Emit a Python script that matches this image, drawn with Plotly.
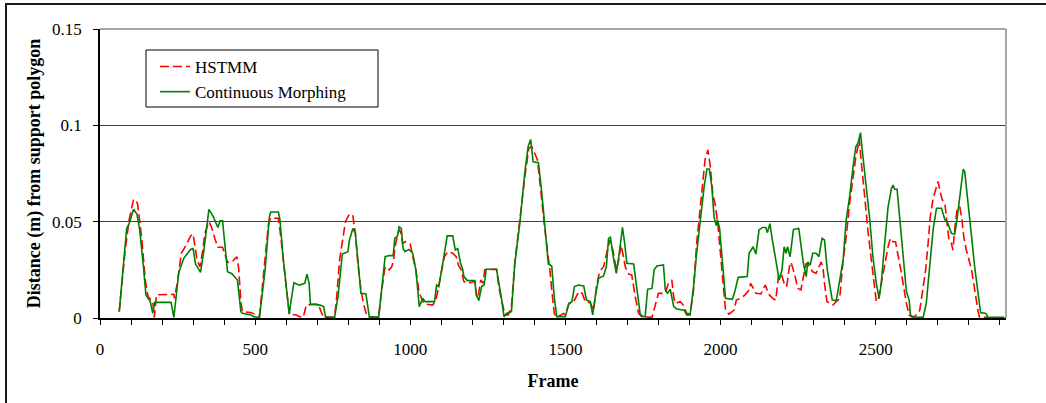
import plotly.graph_objects as go

# ---- data ----
hstmm_frames = [62, 81, 94, 108, 121, 124, 135, 146, 155, 170, 175, 182, 238, 240, 249, 262, 276, 292, 300, 313,
                322, 330, 338, 351, 359, 370, 380, 395, 411, 425, 441, 447, 454, 459, 486, 514, 527, 543, 550, 575,
                582, 591, 601, 610, 633, 644, 655, 660, 665, 703, 710, 719, 756, 763, 772, 783, 791, 804, 815, 823,
                831, 841, 849, 859, 868, 898, 908, 919, 932, 940, 945, 953, 964, 969, 975, 985, 1000, 1008, 1018, 1029,
                1035, 1045, 1072, 1083, 1089, 1099, 1110, 1121, 1137, 1148, 1155, 1164, 1173, 1184, 1208, 1213, 1218, 1227, 1235, 1240,
                1278, 1286, 1297, 1305, 1316, 1326, 1337, 1353, 1370, 1382, 1391, 1401, 1410, 1418, 1425, 1434, 1443, 1450, 1456, 1464,
                1472, 1494, 1500, 1511, 1527, 1543, 1554, 1564, 1580, 1591, 1600, 1610, 1623, 1634, 1643, 1653, 1664, 1672, 1679, 1685,
                1693, 1704, 1714, 1725, 1736, 1746, 1779, 1786, 1793, 1800, 1822, 1832, 1843, 1849, 1854, 1870, 1880, 1891, 1902, 1913,
                1923, 1934, 1943, 1950, 1959, 1966, 1975, 1984, 1992, 2000, 2008, 2016, 2027, 2043, 2051, 2065, 2079, 2092, 2097, 2105,
                2114, 2130, 2144, 2157, 2168, 2178, 2187, 2195, 2205, 2213, 2222, 2227, 2238, 2249, 2259, 2267, 2276, 2286, 2297, 2308,
                2317, 2324, 2330, 2335, 2343, 2351, 2362, 2373, 2384, 2395, 2405, 2416, 2427, 2436, 2443, 2447, 2453, 2460, 2468, 2476,
                2486, 2494, 2502, 2508, 2518, 2529, 2540, 2547, 2556, 2564, 2572, 2581, 2590, 2599, 2608, 2615, 2626, 2642, 2650, 2661,
                2669, 2676, 2685, 2696, 2701, 2709, 2715, 2723, 2730, 2736, 2744, 2749, 2755, 2762, 2771, 2778, 2784, 2792, 2801, 2809,
                2816, 2822, 2830, 2835, 2862]
hstmm_values = [0.0033, 0.035, 0.051, 0.0616, 0.0595, 0.055, 0.0405, 0.0197, 0.011, 0.0085, 0.0003, 0.012, 0.0123, 0.0102, 0.018, 0.0336, 0.0374, 0.0426, 0.0436, 0.030,
                0.0266, 0.0336, 0.044, 0.050, 0.0474, 0.0413, 0.0367, 0.0367, 0.029, 0.029, 0.0318, 0.0258, 0.0085, 0.0033, 0.0028, 0.001, 0.0215, 0.049, 0.052, 0.0517,
                0.043, 0.029, 0.0145, 0.002, 0.0016, 0.0007, 0.0003, 0.0045, 0.0067, 0.0073, 0.004, 0.0007, 0.0003, 0.011, 0.030, 0.042, 0.050, 0.054, 0.053, 0.044,
                0.0284, 0.0145, 0.0076, 0.0016, 0.0003, 0.0003, 0.0145, 0.0266, 0.025, 0.0266, 0.029, 0.0388, 0.0457, 0.045, 0.0388, 0.0396, 0.0384, 0.0318, 0.025, 0.0128,
                0.011, 0.0073, 0.0067, 0.0093, 0.0145, 0.0232, 0.0318, 0.0344, 0.0336, 0.0318, 0.0275, 0.025, 0.0189, 0.018, 0.0189, 0.012, 0.0102, 0.0197, 0.018, 0.025,
                0.0253, 0.0154, 0.0076, 0.0016, 0.0016, 0.0059, 0.029, 0.0526, 0.0742, 0.088, 0.089, 0.0855, 0.082, 0.070, 0.0578, 0.0457, 0.0336, 0.025, 0.0145, 0.0024,
                0.0003, 0.0024, 0.0016, 0.0073, 0.0085, 0.0137, 0.0128, 0.0085, 0.008, 0.004, 0.0163, 0.024, 0.0266, 0.0353, 0.0405, 0.0353, 0.025, 0.030, 0.0379, 0.0336,
                0.0266, 0.0228, 0.0223, 0.011, 0.0024, 0.0007, 0.0003, 0.0045, 0.0093, 0.0128, 0.0128, 0.018, 0.0197, 0.011, 0.0076, 0.0085, 0.0067, 0.0024, 0.002, 0.0145,
                0.0388, 0.056, 0.068, 0.082, 0.0872, 0.080, 0.0647, 0.0578, 0.0474, 0.0336, 0.018, 0.004, 0.002, 0.004, 0.0093, 0.0102, 0.012, 0.0145, 0.018, 0.0154,
                0.0128, 0.0125, 0.0171, 0.012, 0.0102, 0.0093, 0.0223, 0.0232, 0.018, 0.0163, 0.0266, 0.029, 0.0232, 0.0154, 0.0145, 0.0215, 0.0284, 0.0266, 0.024, 0.0232,
                0.0266, 0.029, 0.0266, 0.018, 0.0085, 0.0076, 0.0067, 0.0085, 0.0102, 0.030, 0.0422, 0.0595, 0.0733, 0.0837, 0.089, 0.093, 0.082, 0.070, 0.056, 0.044,
                0.030, 0.0197, 0.0085, 0.0093, 0.018, 0.0284, 0.037, 0.0413, 0.0396, 0.0396, 0.0336, 0.025, 0.0163, 0.0076, 0.0016, 0.0007, 0.0007, 0.004, 0.0128, 0.025,
                0.0388, 0.0526, 0.062, 0.068, 0.0708, 0.0647, 0.0612, 0.0595, 0.0474, 0.0405, 0.0388, 0.0353, 0.0465, 0.056, 0.0578, 0.051, 0.0422, 0.0353, 0.030, 0.025,
                0.018, 0.011, 0.0033, 0.0003, 0.0003]

cm_frames = [62, 86, 94, 108, 119, 128, 140, 148, 162, 170, 176, 229, 238, 254, 270, 292, 300, 308, 324, 335,
             351, 365, 380, 387, 395, 411, 425, 443, 454, 459, 486, 495, 514, 532, 546, 550, 575, 580, 591, 601,
             610, 617, 625, 642, 660, 667, 674, 678, 710, 721, 727, 756, 767, 781, 799, 804, 815, 823, 831, 841,
             857, 868, 898, 905, 919, 932, 945, 950, 959, 964, 971, 977, 983, 996, 1008, 1018, 1029, 1040, 1048, 1078,
             1085, 1092, 1102, 1110, 1119, 1137, 1145, 1153, 1162, 1168, 1173, 1184, 1208, 1213, 1221, 1230, 1238, 1245, 1278, 1286,
             1294, 1302, 1310, 1326, 1337, 1353, 1370, 1380, 1388, 1396, 1413, 1423, 1432, 1440, 1445, 1456, 1464, 1472, 1500, 1511,
             1521, 1529, 1543, 1559, 1568, 1580, 1588, 1596, 1607, 1623, 1632, 1639, 1645, 1655, 1664, 1672, 1679, 1684, 1691, 1698,
             1720, 1731, 1741, 1750, 1757, 1765, 1779, 1786, 1795, 1816, 1822, 1829, 1838, 1849, 1859, 1883, 1891, 1902, 1913, 1923,
             1934, 1947, 1956, 1964, 1972, 1979, 1986, 1990, 1997, 2005, 2016, 2038, 2046, 2057, 2086, 2092, 2097, 2105, 2114, 2124,
             2135, 2146, 2151, 2159, 2168, 2178, 2189, 2198, 2205, 2211, 2216, 2224, 2235, 2252, 2259, 2267, 2276, 2281, 2289, 2297,
             2308, 2317, 2327, 2335, 2344, 2351, 2360, 2373, 2384, 2395, 2405, 2416, 2427, 2436, 2443, 2451, 2459, 2470, 2481, 2491,
             2502, 2511, 2518, 2529, 2540, 2551, 2556, 2561, 2569, 2577, 2588, 2599, 2608, 2612, 2620, 2653, 2663, 2674, 2685, 2696,
             2712, 2723, 2733, 2744, 2755, 2762, 2771, 2782, 2787, 2798, 2809, 2819, 2830, 2838, 2855, 2862, 2915]
cm_values = [0.0033, 0.0465, 0.049, 0.0564, 0.054, 0.0457, 0.0266, 0.012, 0.0085, 0.0024, 0.0081, 0.0081, 0.0003, 0.0237, 0.031, 0.0356, 0.036, 0.028, 0.0237, 0.0353,
             0.0564, 0.0526, 0.047, 0.0505, 0.0505, 0.024, 0.023, 0.0197, 0.0033, 0.0024, 0.0016, 0.0007, 0.0003, 0.025, 0.0526, 0.055, 0.055, 0.051, 0.030, 0.0137,
             0.002, 0.0102, 0.0183, 0.017, 0.018, 0.0228, 0.018, 0.0073, 0.0067, 0.0059, 0.0003, 0.0003, 0.0111, 0.0332, 0.0344, 0.0405, 0.0465, 0.044, 0.030, 0.0128,
             0.0125, 0.0007, 0.0003, 0.011, 0.0318, 0.0324, 0.0324, 0.0413, 0.0426, 0.0474, 0.0465, 0.036, 0.0344, 0.0356, 0.0336, 0.025, 0.0059, 0.0102, 0.0085, 0.0085,
             0.0171, 0.0163, 0.025, 0.0336, 0.0426, 0.0426, 0.0353, 0.036, 0.0284, 0.0258, 0.0215, 0.0194, 0.0194, 0.012, 0.009, 0.0163, 0.0171, 0.0253, 0.0253, 0.018,
             0.0102, 0.0007, 0.0024, 0.0033, 0.0284, 0.049, 0.0768, 0.089, 0.0927, 0.0811, 0.0806, 0.0664, 0.051, 0.0353, 0.028, 0.027, 0.011, 0.0007, 0.0007, 0.0076,
             0.0085, 0.0163, 0.0171, 0.0166, 0.0093, 0.0085, 0.0016, 0.011, 0.0206, 0.0218, 0.0266, 0.0413, 0.0419, 0.031, 0.0232, 0.0318, 0.0422, 0.047, 0.0388, 0.0284,
             0.028, 0.0145, 0.002, 0.0007, 0.0007, 0.0149, 0.0154, 0.025, 0.027, 0.0275, 0.0145, 0.0128, 0.0149, 0.0059, 0.0047, 0.004, 0.0016, 0.0016, 0.0163, 0.0336,
             0.051, 0.068, 0.0773, 0.0773, 0.068, 0.0526, 0.048, 0.051, 0.0465, 0.030, 0.0102, 0.0097, 0.0137, 0.0211, 0.0215, 0.0336, 0.035, 0.037, 0.0332, 0.0457,
             0.047, 0.047, 0.0443, 0.049, 0.0396, 0.031, 0.0197, 0.025, 0.037, 0.0336, 0.037, 0.0318, 0.046, 0.0465, 0.037, 0.0284, 0.0215, 0.029, 0.0275, 0.0336,
             0.0336, 0.0318, 0.0413, 0.0405, 0.025, 0.018, 0.0093, 0.009, 0.0197, 0.030, 0.051, 0.063, 0.0785, 0.089, 0.0907, 0.0962, 0.0837, 0.068, 0.051, 0.0318,
             0.018, 0.0102, 0.018, 0.0388, 0.0578, 0.0673, 0.069, 0.0668, 0.0668, 0.0526, 0.0318, 0.0137, 0.0093, 0.0016, 0.0003, 0.0003, 0.0076, 0.0284, 0.0457, 0.057,
             0.057, 0.051, 0.049, 0.044, 0.0436, 0.051, 0.0638, 0.0772, 0.076, 0.057, 0.0422, 0.0266, 0.0137, 0.0028, 0.0024, 0.0003, 0.0003]

x_range = [0, 2920]
y_ticks = [0, 0.05, 0.1, 0.15]
y_ticktext = ["0", "0.05", "0.1", "0.15"]

SERIF = "Liberation Serif, Times New Roman, serif"

fig = go.Figure()
fig.add_trace(go.Scatter(x=hstmm_frames, y=hstmm_values, mode="lines", name="HSTMM",
                         line=dict(color="#ff0000", width=1.6, dash="9px,4px")))
fig.add_trace(go.Scatter(x=cm_frames, y=cm_values, mode="lines", name="Continuous Morphing",
                         line=dict(color="#008000", width=1.6)))

# layout geometry (pixels)
W, H = 1046, 403
L, R, T, B = 100, 1006, 29, 318
pw, ph = R - L, B - T
def px(x):
    return (x - L) / pw
def py(y):
    return (B - y) / ph

shapes = [
    # outer chart border (top and left visible)
    dict(type="rect", xref="paper", yref="paper", x0=px(6), x1=px(1070), y0=py(4), y1=py(430),
         line=dict(color="#1a1a1a", width=2), layer="below"),
    # plot area top and right edges in grey
    dict(type="line", xref="paper", yref="paper", x0=0, x1=1, y0=1, y1=1,
         line=dict(color="#a6a6a6", width=2), layer="above"),
    dict(type="line", xref="paper", yref="paper", x0=1, x1=1, y0=0, y1=1,
         line=dict(color="#a6a6a6", width=2), layer="above"),
    # legend box
    dict(type="rect", xref="paper", yref="paper", x0=px(146), x1=px(378), y0=py(50), y1=py(107),
         line=dict(color="black", width=1), fillcolor="white", layer="above"),
]

fig.update_layout(
    width=W, height=H,
    margin=dict(l=L, r=W - R, t=T, b=H - B, pad=0),
    paper_bgcolor="white", plot_bgcolor="white",
    font=dict(family=SERIF, size=17, color="black"),
    showlegend=True,
    legend=dict(x=px(155), y=py(49), xanchor="left", yanchor="top",
                bgcolor="rgba(0,0,0,0)", borderwidth=0,
                font=dict(family=SERIF, size=17, color="black"),
                itemwidth=30, tracegroupgap=0),
    shapes=shapes,
    xaxis=dict(range=x_range, tick0=0, dtick=500, ticks="outside", ticklen=5, tickcolor="black",
               tickwidth=1, showgrid=False, zeroline=False, showline=True, linecolor="black", linewidth=1.5,
               tickfont=dict(family=SERIF, size=17), ticklabelstandoff=10,
               minor=dict(dtick=100, ticks="outside", ticklen=5, tickcolor="black", showgrid=False),
               title=dict(text="<b>Frame</b>", font=dict(family=SERIF, size=18), standoff=16)),
    yaxis=dict(range=[0, 0.15], tickvals=y_ticks, ticktext=y_ticktext,
               ticks="outside", ticklen=5, tickcolor="black", tickwidth=1,
               showgrid=True, gridcolor="#404040", gridwidth=1.2, zeroline=False,
               showline=True, linecolor="black", linewidth=1.5,
               tickfont=dict(family=SERIF, size=17), ticklabelstandoff=8,
               title=dict(text="<b>Distance (m) from support polygon</b>", font=dict(family=SERIF, size=18), standoff=7)),
)

fig.write_html("out.html",
               config={"displayModeBar": False},
               post_script="document.body.style.margin='0';document.body.style.overflow='hidden';")
